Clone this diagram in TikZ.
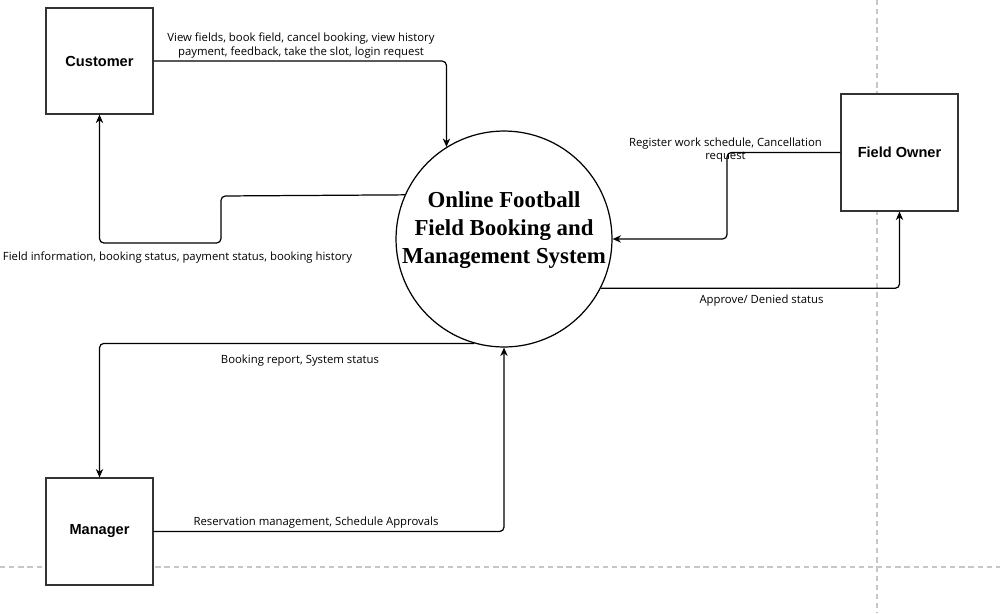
\documentclass[tikz,border=0pt]{standalone}
\usepackage{fontspec}
\setmainfont{Open Sans}
\newfontfamily\entityfont{Liberation Sans}
\newfontfamily\processfont{Liberation Serif}
\usetikzlibrary{arrows.meta}
\begin{document}
\begin{tikzpicture}[x=0.02cm,y=-0.02cm,
    entity/.style={draw=black!80,fill=white,line width=0.7pt,inner sep=0pt,
      font=\entityfont\bfseries\fontsize{8.3}{10}\selectfont},
    process/.style={circle,draw,fill=white,line width=0.7pt,minimum size=4.32cm,inner sep=0pt},
    title/.style={inner sep=0pt,align=center,font=\processfont\bfseries\fontsize{13}{15.9}\selectfont},
    flow/.style={-{Stealth[length=4.8pt,width=4.2pt]},line width=0.7pt,rounded corners=2.5pt},
    lbl/.style={inner sep=0pt,align=center,font=\fontsize{6.45}{7.9}\selectfont},
    guide/.style={draw=black!22,line width=0.7pt,dash pattern=on 3pt off 2.2pt}]
      \useasboundingbox (0,0) rectangle (1000,613);
      \draw[guide] (877,0) -- (877,613);
      \draw[guide] (0,567) -- (1000,567);
      \draw
        (99.5,61) node[entity,minimum width=2.14cm,minimum height=2.12cm] (cust){Customer}
        (899.5,152.5) node[entity,minimum width=2.34cm,minimum height=2.34cm] (fown){Field Owner}
        (99.5,531.5) node[entity,minimum width=2.14cm,minimum height=2.14cm] (mgr){Manager}
        (504,239) node[process] (sys){}
        (504,230.5) node[title] (systitle){Online Football\\Field Booking and\\Management System};
      \begin{scope}[flow]
        \draw (cust.east) -| (sys.122);
        \draw (sys.156.5) -- (221,196) -- (221,243) -| (cust.south);
        \draw (fown.west) -- (727,152.5) |- (sys.east);
        \draw (sys.333) -| (fown.south);
        \draw (sys.254.4) -| (mgr.north);
        \draw (mgr.east) -| (sys.south);
      \end{scope}
      \draw
        (301,45.5) node[lbl] (l1){View fields, book field, cancel booking, view history\\payment, feedback, take the slot, login request}
        (177.5,258) node[lbl] (l2){Field information, booking status, payment status, booking history}
        (725.5,150) node[lbl] (l3){Register work schedule, Cancellation\\request}
        (761.5,301) node[lbl] (l4){Approve/ Denied status}
        (300,361) node[lbl] (l5){Booking report, System status}
        (316,523) node[lbl] (l6){Reservation management, Schedule Approvals};
    \end{tikzpicture}
\end{document}
